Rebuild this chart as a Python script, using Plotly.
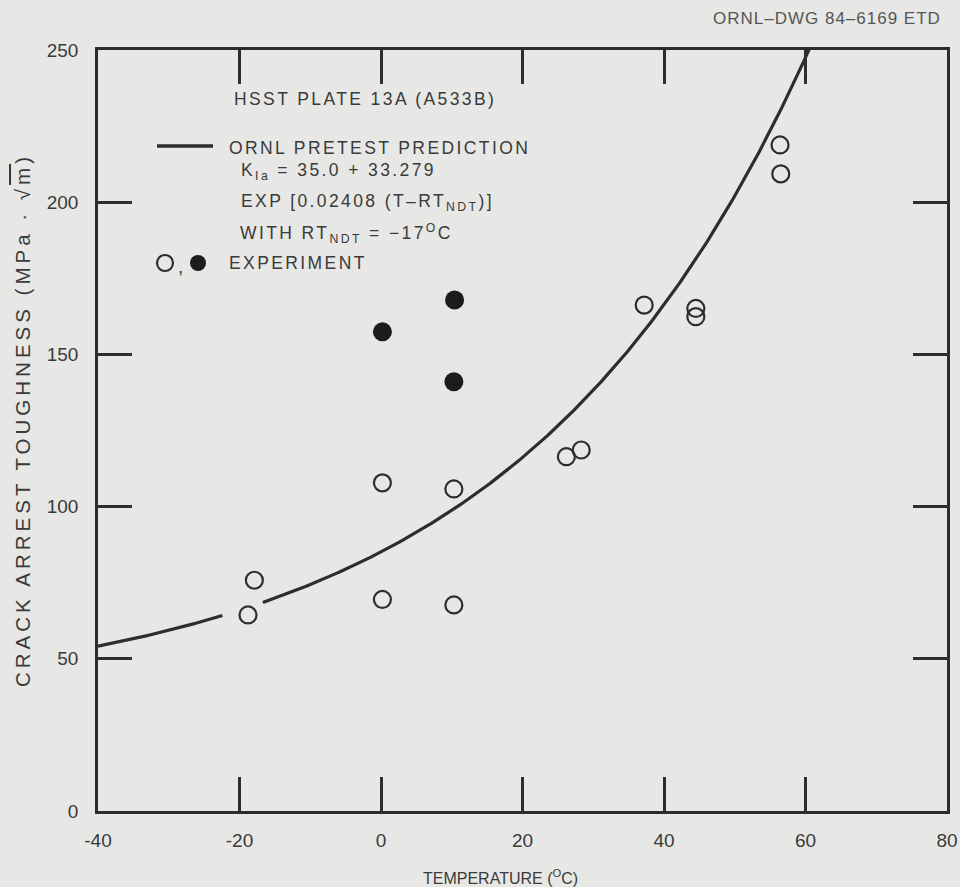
import numpy as np
import plotly.graph_objects as go

# --- data ---------------------------------------------------------------
# Open-symbol experiments: temperature (degC) and K_Ia (MPa*sqrt(m))
open_temp = [-18.8, -17.9, 0.2, 0.2, 10.3, 10.3, 26.2, 28.3, 37.2, 44.5, 44.5, 56.4, 56.5]
open_kia = [64.4, 75.8, 69.5, 107.8, 67.7, 105.8, 116.4, 118.6, 166.2, 165.1, 162.4, 218.8, 209.3]

# Filled-symbol experiments
filled_temp = [0.2, 10.4, 10.3]
filled_kia = [157.4, 167.9, 141.0]

# Pretest prediction constants: K_Ia = A + B * exp[C (T - RT_NDT)]
coef_a = 35.0
coef_b = 33.279
coef_c = 0.02408
rt_ndt = -17.0

x_ticks = [-40, -20, 0, 20, 40, 60, 80]
x_tick_text = ["-40", "-20", "0", "20", "40", "60", "80"]
y_ticks = [0, 50, 100, 150, 200, 250]
y_tick_text = ["0", "50", "100", "150", "200", "250"]

# --- prediction curve ---------------------------------------------------
curve_t = np.linspace(-40, 62, 500)
curve_k = coef_a + coef_b * np.exp(coef_c * (curve_t - rt_ndt))
curve_k = curve_k.astype(object)
# break the line where it passes behind the low-temperature symbol
curve_k[(curve_t > -22.4) & (curve_t < -16.7)] = None

INK = "#2d2d2d"
TEXT = "#3a3a3a"
BG = "#e7e7e5"
FONT = "Liberation Sans, Arial, sans-serif"

# plot-area pixel frame used for placing the annotations
L, R, T, B = 98, 947, 50, 811


def px(x):
    return (x - L) / (R - L)


def py(y):
    return (B - y) / (B - T)


def spaced(s, sp):
    return f'<span style="letter-spacing:{sp}px">{s}</span>'


fig = go.Figure()

fig.add_trace(go.Scatter(
    x=curve_t, y=curve_k, mode="lines",
    line=dict(color=INK, width=3.2), connectgaps=False,
    hoverinfo="skip", showlegend=False,
))
fig.add_trace(go.Scatter(
    x=open_temp, y=open_kia, mode="markers",
    marker=dict(symbol="circle-open", size=17, color=INK, line=dict(width=2.2, color=INK)),
    showlegend=False,
))
fig.add_trace(go.Scatter(
    x=filled_temp, y=filled_kia, mode="markers",
    marker=dict(symbol="circle", size=19, color="#1c1c1c", line=dict(width=0)),
    showlegend=False,
))

axis_common = dict(
    showline=True, mirror="ticks", linecolor=INK, linewidth=2.5,
    ticks="inside", ticklen=34, tickwidth=2.5, tickcolor=INK,
    showgrid=False, zeroline=False, automargin=False,
    tickfont=dict(family=FONT, size=19, color=TEXT),
)

fig.update_xaxes(range=[-40, 80], tickvals=x_ticks, ticktext=x_tick_text,
                 ticklabelstandoff=10, **axis_common)
fig.update_yaxes(range=[0, 250], tickvals=y_ticks, ticktext=y_tick_text,
                 ticklabelstandoff=13, **axis_common)

ann = []


def add_text(text, x, y, size=17.5, xanchor="left", angle=0, color=TEXT):
    ann.append(dict(
        text=text, x=px(x), y=py(y), xref="paper", yref="paper",
        xanchor=xanchor, yanchor="middle", showarrow=False, textangle=angle,
        font=dict(family=FONT, size=size, color=color),
    ))


SP = 2.4
add_text(spaced("HSST PLATE 13A (A533B)", SP), 232, 99)
add_text(spaced("ORNL PRETEST PREDICTION", SP), 227, 148)
add_text(spaced("K<sub>Ia</sub> = 35.0 + 33.279", SP), 239, 171)
add_text(spaced("EXP [0.02408 (T\u2013RT<sub>NDT</sub>)]", SP), 239, 202)
add_text(spaced("WITH RT<sub>NDT</sub> = \u221217<sup>O</sup>C", SP), 238, 233)
add_text(spaced("EXPERIMENT", SP), 227, 263)
add_text(",", 176, 266, size=19)

add_text(spaced("ORNL\u2013DWG 84\u20136169 ETD", 1.0), 943, 18, size=17, xanchor="right", color="#555555")
add_text("TEMPERATURE (<sup>O</sup>C)", 500, 877, size=16, xanchor="center")
add_text(spaced('CRACK ARREST TOUGHNESS (MPa \u00b7 \u221a<span style="text-decoration:overline">m</span>)', 4.0),
         22, 420, size=20.5, xanchor="center", angle=-90)

shapes = [
    # legend sample line
    dict(type="line", xref="paper", yref="paper", x0=px(157), x1=px(213), y0=py(146), y1=py(146),
         line=dict(color=INK, width=3.5)),
    # legend symbols
    dict(type="circle", xref="paper", yref="paper", xsizemode="pixel", ysizemode="pixel",
         xanchor=px(165), yanchor=py(263), x0=-8, x1=8, y0=-8, y1=8,
         line=dict(color=INK, width=2.2), fillcolor="rgba(0,0,0,0)"),
    dict(type="circle", xref="paper", yref="paper", xsizemode="pixel", ysizemode="pixel",
         xanchor=px(198), yanchor=py(263), x0=-8, x1=8, y0=-8, y1=8,
         line=dict(color="#1c1c1c", width=0), fillcolor="#1c1c1c"),
]

fig.update_layout(
    width=960, height=887,
    margin=dict(l=L, r=960 - R, t=T, b=887 - B),
    paper_bgcolor=BG, plot_bgcolor=BG,
    annotations=ann, shapes=shapes,
    font=dict(family=FONT, color=TEXT),
    showlegend=False,
)

fig.write_html("out.html")
